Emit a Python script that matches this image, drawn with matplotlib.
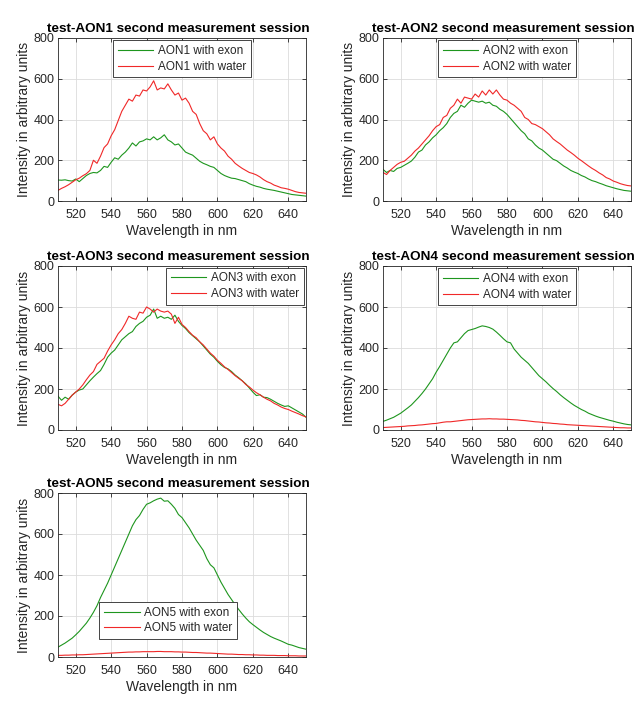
import numpy as np
import matplotlib
import matplotlib.pyplot as plt

matplotlib.use('Agg')

plt.rcParams['font.family'] = ['Liberation Sans', 'DejaVu Sans']

wavelength = np.arange(510, 651, 2)

aon1_exon = [103, 102, 104, 100, 98, 108, 95, 110, 125, 135, 140, 138, 150, 170, 165, 190, 212, 205,
             225, 240, 260, 285, 270, 290, 295, 305, 300, 315, 300, 310, 325, 300, 290, 275, 280, 260,
             240, 232, 225, 210, 195, 185, 178, 170, 165, 150, 135, 125, 118, 112, 110, 105, 100, 95,
             85, 78, 72, 68, 62, 58, 55, 52, 48, 44, 40, 36, 32, 30, 28, 26, 24]
aon1_water = [52, 62, 70, 80, 92, 104, 112, 124, 134, 150, 200, 185, 220, 262, 280, 320, 350, 395,
              440, 470, 500, 490, 520, 515, 545, 540, 560, 590, 545, 555, 550, 575, 545, 520, 530, 495,
              505, 480, 440, 425, 380, 345, 330, 300, 315, 280, 260, 245, 220, 205, 185, 172, 160, 150,
              140, 135, 128, 118, 105, 95, 88, 78, 72, 65, 62, 58, 52, 46, 42, 40, 38]

aon2_exon = [155, 140, 150, 145, 160, 165, 175, 185, 196, 215, 240, 250, 275, 290, 310, 325, 345, 360,
             380, 410, 430, 440, 470, 460, 480, 495, 490, 485, 490, 480, 485, 470, 465, 450, 440, 425,
             405, 385, 365, 345, 330, 305, 295, 275, 260, 250, 235, 220, 205, 198, 185, 172, 162, 150,
             142, 135, 125, 118, 108, 100, 95, 88, 82, 75, 70, 65, 60, 56, 52, 50, 48]
aon2_water = [140, 130, 150, 165, 180, 190, 195, 210, 225, 245, 260, 280, 300, 320, 345, 365, 375, 410,
              420, 455, 470, 500, 480, 510, 505, 500, 525, 510, 540, 520, 545, 525, 545, 520, 500, 495,
              480, 470, 455, 440, 410, 400, 380, 375, 365, 355, 340, 325, 305, 292, 280, 265, 250, 238,
              225, 210, 198, 185, 172, 160, 150, 138, 128, 115, 108, 98, 92, 85, 80, 76, 74]

aon3_exon = [165, 145, 160, 150, 170, 185, 195, 200, 220, 240, 258, 275, 290, 320, 355, 375, 390, 415,
             440, 455, 470, 480, 505, 520, 530, 550, 560, 590, 545, 555, 545, 550, 540, 560, 530, 510,
             495, 475, 460, 445, 430, 410, 390, 370, 355, 335, 318, 305, 298, 285, 268, 255, 240, 225,
             205, 185, 168, 172, 160, 158, 150, 140, 130, 122, 115, 118, 108, 98, 88, 78, 62]
aon3_water = [125, 118, 130, 150, 170, 185, 200, 220, 245, 268, 285, 320, 335, 350, 385, 415, 440, 470,
              490, 520, 555, 545, 540, 575, 570, 600, 590, 575, 590, 580, 575, 580, 565, 520, 550, 515,
              500, 480, 462, 450, 430, 415, 395, 375, 360, 340, 325, 308, 295, 280, 265, 252, 240, 222,
              210, 195, 182, 172, 160, 150, 142, 130, 122, 112, 105, 100, 92, 85, 78, 70, 64]

aon4_exon = [42, 48, 55, 62, 72, 82, 95, 108, 122, 140, 158, 178, 200, 225, 250, 282, 310, 340,
             370, 400, 425, 430, 450, 470, 485, 490, 495, 502, 508, 505, 500, 492, 478, 462, 445, 430,
             425, 395, 375, 355, 340, 325, 305, 285, 265, 250, 235, 218, 202, 188, 172, 158, 145, 132,
             120, 110, 100, 92, 82, 75, 68, 62, 57, 52, 47, 43, 38, 34, 30, 27, 25]
aon4_water = [12, 13, 14, 15, 16, 17, 18, 20, 21, 22, 24, 25, 27, 29, 31, 32, 35, 38,
              40, 40, 42, 44, 46, 48, 50, 51, 52, 53, 54, 54, 55, 54, 54, 53, 53, 52,
              51, 50, 49, 47, 46, 44, 42, 40, 39, 37, 35, 34, 32, 31, 29, 28, 26, 25,
              24, 23, 22, 21, 20, 19, 18, 17, 16, 15, 14, 13, 12, 11, 11, 10, 10]

aon5_exon = [48, 58, 68, 80, 92, 108, 125, 145, 165, 190, 218, 250, 290, 325, 360, 400, 440, 480,
             520, 560, 600, 640, 670, 690, 720, 745, 752, 762, 770, 775, 760, 762, 745, 725, 695, 680,
             655, 630, 600, 570, 545, 520, 480, 450, 435, 400, 365, 335, 305, 280, 255, 232, 210, 190,
             172, 158, 145, 132, 120, 110, 100, 92, 85, 78, 70, 62, 58, 52, 46, 42, 38]
aon5_water = [8, 8, 9, 9, 10, 10, 11, 11, 12, 13, 14, 15, 16, 17, 18, 19, 20, 21,
              22, 23, 24, 24, 25, 25, 26, 26, 26, 26, 27, 27, 26, 26, 26, 25, 25, 24,
              24, 23, 22, 22, 21, 20, 19, 19, 18, 17, 16, 15, 14, 14, 13, 12, 12, 11,
              11, 10, 10, 9, 9, 8, 8, 8, 7, 7, 7, 6, 6, 6, 5, 5, 5]

names = ['AON1', 'AON2', 'AON3', 'AON4', 'AON5']
exon_series = [aon1_exon, aon2_exon, aon3_exon, aon4_exon, aon5_exon]
water_series = [aon1_water, aon2_water, aon3_water, aon4_water, aon5_water]

# axes boxes in pixels: left, top, right, bottom
boxes = [(58, 38, 306, 201), (383, 38, 631, 201),
         (58, 266, 306, 430), (383, 266, 631, 430),
         (58, 493, 306, 657)]
W, H = 640, 716

green = '#1e961e'
red = '#f02828'
dark = '#262626'

fig = plt.figure(figsize=(6.4, 7.16), dpi=100)

for i, name in enumerate(names):
    l, t, r, b = boxes[i]
    ax = fig.add_axes([l / W, 1 - b / H, (r - l) / W, (b - t) / H])
    ax.plot(wavelength, exon_series[i], color=green, lw=0.8, label=name + ' with exon')
    ax.plot(wavelength, water_series[i], color=red, lw=0.8, label=name + ' with water')
    ax.set_xlim(510, 650)
    ax.set_ylim(0, 800)
    ax.set_xticks([520, 540, 560, 580, 600, 620, 640])
    ax.set_yticks([0, 200, 400, 600, 800])
    ax.grid(True, color='#dcdcdc', lw=0.6)
    ax.set_axisbelow(True)
    ax.tick_params(direction='in', top=True, right=True, length=3, width=0.6,
                   labelsize=9, colors=dark)
    ax.tick_params(axis='x', pad=6)
    ax.tick_params(axis='y', pad=2.5)
    for s in ax.spines.values():
        s.set_color(dark)
        s.set_linewidth(0.6)
    ax.set_xlabel('Wavelength in nm', fontsize=10, color=dark, labelpad=2)
    ax.set_ylabel('Intensity in arbitrary units', fontsize=10, color=dark, labelpad=2)
    ax.set_title('test-' + name + ' second measurement session',
                 fontsize=9.7, fontweight='bold', color='black', pad=4, x=0.486)

    leg_opts = dict(borderaxespad=0, handlelength=3.0, handletextpad=0.4,
                    labelspacing=0.3, borderpad=0.4, fontsize=8.5, fancybox=False)
    if i == 2:
        leg = ax.legend(loc='upper right', bbox_to_anchor=(0.99, 0.99), **leg_opts)
    elif i == 4:
        leg = ax.legend(loc='lower center', bbox_to_anchor=(0.445, 0.11), **leg_opts)
    else:
        leg = ax.legend(loc='upper center', bbox_to_anchor=(0.5, 0.985), **leg_opts)
    leg.get_frame().set_edgecolor(dark)
    leg.get_frame().set_linewidth(0.6)
    leg.get_frame().set_alpha(1)
    for txt in leg.get_texts():
        txt.set_color(dark)

fig.savefig('out.png', dpi=100, facecolor='white')
